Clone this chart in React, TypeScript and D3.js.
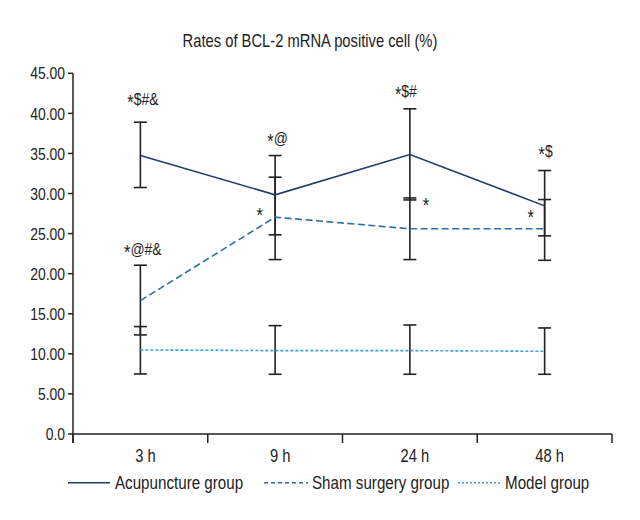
import React from "react";
import * as d3 from "d3";

// ---- data ----
const categories = ["3 h", "9 h", "24 h", "48 h"];
const seriesNames = ["Acupuncture group", "Sham surgery group", "Model group"];

const acupunctureMean = [34.74, 29.84, 34.87, 28.46];
const acupunctureLow = [30.75, 24.85, 29.2, 24.72];
const acupunctureHigh = [38.9, 34.74, 40.57, 32.87];

const shamMean = [16.64, 27.05, 25.6, 25.6];
const shamLow = [12.36, 21.76, 21.76, 21.67];
const shamHigh = [21.06, 32.04, 29.45, 29.25];

const modelMean = [10.49, 10.4, 10.4, 10.32];
const modelLow = [7.49, 7.45, 7.45, 7.45];
const modelHigh = [13.4, 13.52, 13.6, 13.23];

const yTicks = [0, 5, 10, 15, 20, 25, 30, 35, 40, 45];

// significance annotations: category, label, value level, horizontal offset
const annotationCats = ["3 h", "3 h", "9 h", "9 h", "24 h", "24 h", "48 h", "48 h"];
const annotationTexts = ["*$#&", "*@#&", "*@", "*", "*$#", "*", "*$", "*"];
const annotationValues = [41.0, 22.33, 36.12, 26.95, 42.0, 28.19, 34.6, 26.65];
const annotationDx = [2.5, 2.5, 2.5, -15.5, -4, 16, 1, -14];

const FONT = "'Liberation Sans', Arial, sans-serif";
const SX = 0.82; // horizontal condensation

const colors = ["#1e3d6b", "#2c6ea6", "#3ba3d8"];
const dashes = ["none", "7,3.5", "3,2"];
const legendDashes = ["none", "4,3", "2,2"];

function NText(props: {
  x: number;
  y: number;
  size: number;
  anchor?: "start" | "middle" | "end";
  dy?: string;
  children: React.ReactNode;
}) {
  return (
    <text
      transform={`translate(${props.x},${props.y}) scale(${SX},1)`}
      textAnchor={props.anchor || "start"}
      fontSize={props.size}
      dy={props.dy}
      fill="#222"
    >
      {props.children}
    </text>
  );
}

export default function App() {
  const width = 640;
  const height = 520;
  const left = 73;
  const x = d3.scaleBand<string>().domain(categories).range([left, 612]).padding(0);
  const y = d3.scaleLinear().domain([0, 45]).range([434, 73.3]);

  const series = [
    { mean: acupunctureMean, low: acupunctureLow, high: acupunctureHigh },
    { mean: shamMean, low: shamLow, high: shamHigh },
    { mean: modelMean, low: modelLow, high: modelHigh },
  ];

  const cx = (c: string) => (x(c) as number) + x.bandwidth() / 2;
  const line = d3
    .line<number>()
    .x((_, i) => cx(categories[i]))
    .y((d) => y(d));

  const capW = 6.5;
  const edges = [...categories.map((c) => x(c) as number), x.range()[1]];

  const legendItems = [
    { x0: 68, x1: 110, tx: 115 },
    { x0: 264, x1: 308, tx: 312 },
    { x0: 458, x1: 500, tx: 505 },
  ];

  return (
    <svg
      width={width}
      height={height}
      style={{ position: "absolute", left: 0, top: 0, background: "#fff" }}
      fontFamily={FONT}
    >
      <NText x={310} y={46.7} size={18} anchor="middle">
        Rates of BCL-2 mRNA positive cell (%)
      </NText>

      {/* y axis */}
      <line x1={left} x2={left} y1={y(45)} y2={443} stroke="#222" strokeWidth={1.5} />
      {yTicks.map((t) => (
        <g key={t}>
          <line x1={left - 5} x2={left} y1={y(t)} y2={y(t)} stroke="#222" strokeWidth={1.5} />
          <NText x={left - 8} y={y(t)} dy="0.36em" anchor="end" size={17}>
            {t === 0 ? "0.0" : t.toFixed(2)}
          </NText>
        </g>
      ))}

      {/* x axis */}
      <line x1={left} x2={612} y1={y(0)} y2={y(0)} stroke="#222" strokeWidth={1.5} />
      {edges.map((e, i) => (
        <line key={i} x1={e} x2={e} y1={y(0)} y2={y(0) + 9} stroke="#222" strokeWidth={1.5} />
      ))}
      {categories.map((c) => (
        <NText key={c} x={cx(c) + 5} y={461.7} anchor="middle" size={18}>
          {c}
        </NText>
      ))}

      {/* error bars */}
      {series.map((s, si) =>
        categories.map((c, i) => {
          const px = cx(c);
          return (
            <g key={`${si}-${c}`} stroke="#222" strokeWidth={1.6}>
              <line x1={px} x2={px} y1={y(s.low[i])} y2={y(s.high[i])} />
              <line x1={px - capW} x2={px + capW} y1={y(s.low[i])} y2={y(s.low[i])} />
              <line x1={px - capW} x2={px + capW} y1={y(s.high[i])} y2={y(s.high[i])} />
            </g>
          );
        })
      )}

      {/* lines */}
      {series.map((s, si) => (
        <path
          key={si}
          d={line(s.mean) || ""}
          fill="none"
          stroke={colors[si]}
          strokeWidth={1.6}
          strokeDasharray={dashes[si]}
        />
      ))}

      {/* annotations */}
      {annotationTexts.map((t, i) => {
        const rest = t.slice(1);
        return (
          <NText
            key={i}
            x={cx(annotationCats[i]) + annotationDx[i]}
            y={y(annotationValues[i])}
            anchor="middle"
            size={17}
          >
            <tspan fontSize={20} dy={4}>*</tspan>
            {rest ? <tspan dy={-4}>{rest}</tspan> : null}
          </NText>
        );
      })}

      {/* legend */}
      {seriesNames.map((n, i) => (
        <g key={n}>
          <line
            x1={legendItems[i].x0}
            x2={legendItems[i].x1}
            y1={482.7}
            y2={482.7}
            stroke={colors[i]}
            strokeWidth={1.6}
            strokeDasharray={legendDashes[i]}
          />
          <NText x={legendItems[i].tx} y={488.5} size={18.5}>
            {n}
          </NText>
        </g>
      ))}
    </svg>
  );
}
